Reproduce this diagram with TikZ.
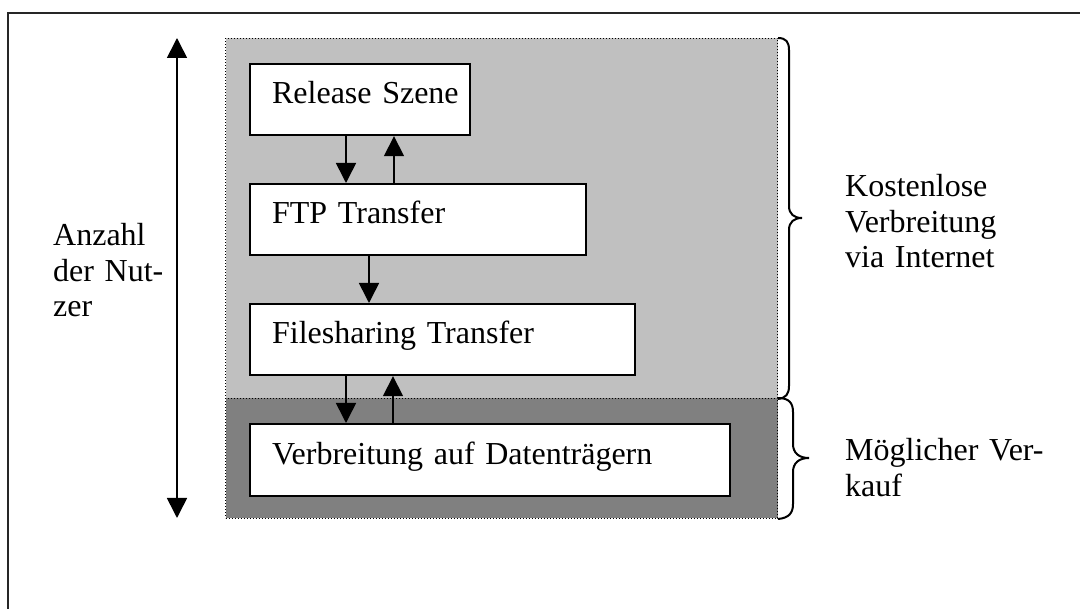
\documentclass[tikz,border=0pt]{standalone}
\usepackage{fontspec}
\setmainfont{Liberation Serif}
\usetikzlibrary{arrows.meta}

\definecolor{lightregion}{HTML}{C0C0C0}
\definecolor{darkregion}{HTML}{808080}

\tikzset{
  region/.style={draw=black, line width=1pt, dotted, anchor=north west,
                 inner sep=0pt, minimum height=#1},
  stepbox/.style={draw=black, line width=2.2pt, fill=white, anchor=north west,
                  align=left, inner xsep=22pt, inner ysep=0pt,
                  font=\fontsize{32}{36}\selectfont},
  flow/.style={line width=1.6pt, -{Triangle[width=20pt,length=20pt]}},
  label text/.style={anchor=base west, inner sep=0pt, align=left,
                     font=\fontsize{32}{35.5}\selectfont},
  brace line/.style={line width=2pt},
}

\begin{document}
\begin{tikzpicture}[x=1pt, y=-1pt]
  \useasboundingbox (0,0) rectangle (1080,609);

  % open frame: top and left rule
  \draw[line width=2pt, black!85] (1080,13) -- (8,13) -- (8,609);

  % shaded regions
  \node[region=360pt, minimum width=552pt, fill=lightregion] (inet) at (225,38) {};
  \node[region=120pt, minimum width=552pt, fill=darkregion] (sale) at (225,398) {};

  % process steps
  \node[stepbox, text width=176pt, text height=39pt, text depth=32pt]
    (rel) at (249,63) {\mbox{Release Szene}};
  \node[stepbox, text width=292pt, text height=39pt, text depth=32pt]
    (ftp) at (249,183) {FTP Transfer};
  \node[stepbox, text width=341pt, text height=39pt, text depth=32pt]
    (fs) at (249,303) {Filesharing Transfer};
  \node[stepbox, text width=436pt, text height=40pt, text depth=32pt]
    (ver) at (249,423) {Verbreitung auf Datenträgern};

  % flows between the steps
  \draw[flow] ([xshift=97pt]rel.south west) -- ([xshift=97pt]ftp.north west);
  \draw[flow] ([xshift=145pt]ftp.north west) -- ([xshift=145pt]rel.south west);
  \draw[flow] ([xshift=120pt]ftp.south west) -- ([xshift=120pt]fs.north west);
  \draw[flow] ([xshift=97pt]fs.south west) -- ([xshift=97pt]ver.north west);
  \draw[flow] ([xshift=144pt]ver.north west) -- ([xshift=144pt]fs.south west);

  % user scale
  \coordinate (utop) at (177,38);
  \coordinate (ubot) at (177,518);
  \draw[line width=1.6pt, {Triangle[width=20pt,length=20pt]}-{Triangle[width=20pt,length=20pt]}]
    (utop) -- (ubot);
  \node[label text, text width=130pt] (users) at (53,246)
    {Anzahl\\der Nut-\\zer};

  % brace for the free distribution region
  \draw[brace line] (inet.north east)
    .. controls (786,38) and (789,42) .. (789,50) -- (789,206)
    .. controls (789,214) and (794,218) .. (802,218)
    .. controls (794,218) and (789,222) .. (789,230) -- (789,386)
    .. controls (789,394) and (786,398) .. (inet.south east);
  \node[label text, text width=200pt] (free) at (845,197)
    {Kostenlose\\Verbreitung\\via Internet};

  % brace for the sales region
  \draw[brace line] (sale.north east)
    .. controls (789,398) and (793,403) .. (793,412) -- (793,444)
    .. controls (793,453) and (799,458) .. (809,458)
    .. controls (799,458) and (793,463) .. (793,472) -- (793,504)
    .. controls (793,513) and (789,518) .. (sale.south east);
  \node[label text, text width=220pt] (sell) at (845,461)
    {Möglicher Ver-\\kauf};
\end{tikzpicture}
\end{document}
